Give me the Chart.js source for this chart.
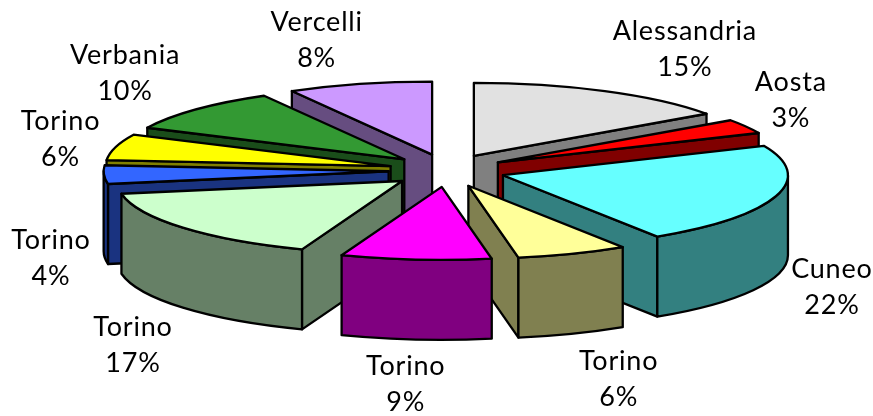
<!DOCTYPE html>
<html><head><meta charset="utf-8">
<style>html,body{margin:0;padding:0;background:#fff}#w{width:873px;height:416px}</style>
<script src="https://cdn.jsdelivr.net/npm/chart.js@4/dist/chart.umd.min.js"></script>
</head><body><div id="w"><canvas id="c"></canvas></div>
<script>
const categories = ["Alessandria","Aosta","Cuneo","Torino","Torino","Torino","Torino","Torino","Verbania","Vercelli"];
const shares = [15.2,3.2,22.49,6.3,8.52,16.5,4.1,5.8,9.7,8.19];
const topColors = ["#E1E1E1","#FF0000","#66FFFF","#FFFF99","#FF00FF","#CCFFCC","#3366FF","#FFFF00","#339933","#CC99FF"];
const sideColors = ["#808080","#800000","#338080","#808050","#800080","#668066","#1A3380","#808000","#1A4D1A","#664D80"];
const labelNudges = [[80,-42],[45,-26],[56,91],[46,126],[-10,125],[-50,118],[-53,84],[-55,-8],[-71,-36],[-43,-44]];

const RX = 285, RY = 73, DEPTH = 80, EXPLODE_X = 0.205, EXPLODE_Y = 0.225;
const FONT = '27px Lato', SPACING = '0.8px', LINE = 36;

const pie3d = {
  id: 'pie3d',
  beforeDatasetDraw(chart, args) {
    const ctx = chart.ctx;
    const arcs = chart.getDatasetMeta(args.index).data;
    const geom = arcs.map((el, i) => {
      const p = el.getProps(['x','y','startAngle','endAngle'], true);
      const mid = (p.startAngle + p.endAngle) / 2;
      return { i, s: p.startAngle, e: p.endAngle, mid,
        ax: p.x + EXPLODE_X * RX * Math.cos(mid),
        ay: p.y + EXPLODE_Y * RY * Math.sin(mid) };
    });
    const order = geom.slice().sort((a, b) => Math.sin(a.mid) - Math.sin(b.mid));
    ctx.save();
    ctx.strokeStyle = '#000'; ctx.lineWidth = 2.3; ctx.lineJoin = 'round';
    const rim = (g, a) => [g.ax + RX * Math.cos(a), g.ay + RY * Math.sin(a)];
    const cut = (g, a) => {
      const [x, y] = rim(g, a);
      ctx.beginPath();
      ctx.moveTo(g.ax, g.ay); ctx.lineTo(x, y);
      ctx.lineTo(x, y + DEPTH); ctx.lineTo(g.ax, g.ay + DEPTH);
      ctx.closePath(); ctx.fill(); ctx.stroke();
    };
    for (const g of order) {
      ctx.fillStyle = sideColors[g.i];
      if (Math.cos(g.s) < 0) cut(g, g.s);
      if (Math.cos(g.e) > 0) cut(g, g.e);
      const lo = Math.max(g.s, 0), hi = Math.min(g.e, Math.PI);
      if (hi > lo) {
        ctx.beginPath();
        ctx.ellipse(g.ax, g.ay, RX, RY, 0, lo, hi);
        ctx.ellipse(g.ax, g.ay + DEPTH, RX, RY, 0, hi, lo, true);
        ctx.closePath(); ctx.fill(); ctx.stroke();
      }
      ctx.fillStyle = topColors[g.i];
      ctx.beginPath();
      ctx.moveTo(g.ax, g.ay);
      ctx.ellipse(g.ax, g.ay, RX, RY, 0, g.s, g.e);
      ctx.closePath(); ctx.fill(); ctx.stroke();
    }
    ctx.fillStyle = '#000'; ctx.font = FONT; ctx.letterSpacing = SPACING;
    ctx.textAlign = 'center'; ctx.textBaseline = 'middle';
    for (const g of geom) {
      const [x, y] = rim(g, g.mid);
      const lx = x + labelNudges[g.i][0], ly = y + labelNudges[g.i][1];
      ctx.fillText(categories[g.i], lx, ly - LINE / 2);
      ctx.fillText(Math.round(shares[g.i]) + '%', lx, ly + LINE / 2);
    }
    ctx.restore();
    return false;
  }
};

new Chart(document.getElementById('c'), {
  type: 'pie',
  data: { labels: categories, datasets: [{ data: shares, backgroundColor: topColors }] },
  options: {
    responsive: true, maintainAspectRatio: false, animation: false,
    layout: { padding: { left: 21, bottom: 75 } },
    plugins: { legend: { display: false }, tooltip: { enabled: false } }
  },
  plugins: [pie3d]
});
</script></body></html>
